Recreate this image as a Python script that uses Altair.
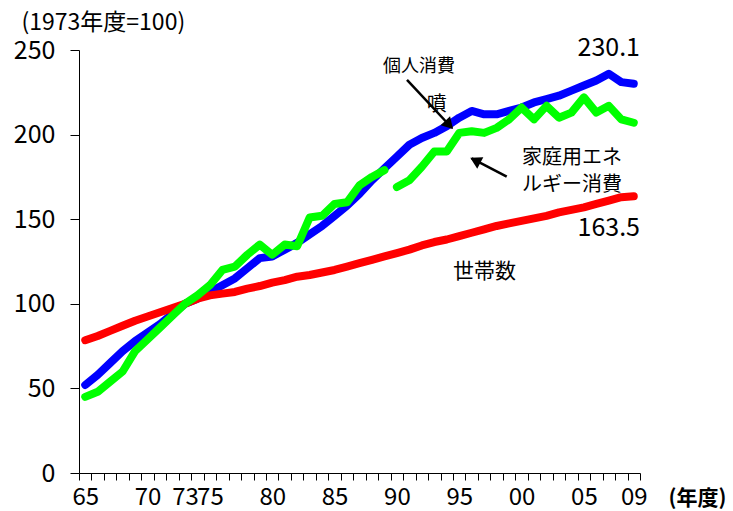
import altair as alt
import pandas as pd

# ---------------- data (index, FY1973 = 100) ----------------
years = [1965, 1966, 1967, 1968, 1969, 1970, 1971, 1972, 1973, 1974,
         1975, 1976, 1977, 1978, 1979, 1980, 1981, 1982, 1983, 1984,
         1985, 1986, 1987, 1988, 1989, 1990, 1991, 1992, 1993, 1994,
         1995, 1996, 1997, 1998, 1999, 2000, 2001, 2002, 2003, 2004,
         2005, 2006, 2007, 2008, 2009]

consumption = [52, 58, 65, 72, 78, 83, 88, 94, 100, 103,
               107, 111, 115, 121, 127, 128, 132, 136, 141, 146,
               152, 158, 165, 173, 180, 187, 194, 198, 201, 205,
               210, 214, 212, 212, 214, 216, 219, 221, 223, 226,
               229, 232, 236, 231, 230.1]

households = [78.5, 81, 84, 87, 90, 92.5, 95, 97.5, 100, 103,
              105, 106, 107, 109, 110.5, 112.5, 114, 116, 117, 118.5,
              120, 122, 124, 126, 128, 130, 132, 134.5, 136.5, 138,
              140, 142, 144, 146, 147.5, 149, 150.5, 152, 154, 155.5,
              157, 159, 161, 163, 163.5]

energy = [45, 48, 54, 60, 72, 79, 86, 93, 100, 105,
          111, 120, 122, 129, 135, 129, 135, 134, 151, 152,
          159, 160, 170, 175, 179, 169, 173, 181, 190, 190,
          201, 202, 201, 204, 209, 216, 209, 217, 210, 213,
          222, 213, 217, 209, 207]
energy_break_after = 1989  # series is discontinuous between FY1989 and FY1990

x_label_years = [1965, 1970, 1973, 1975, 1980, 1985, 1990, 1995, 2000, 2005, 2009]
y_ticks = [0, 50, 100, 150, 200, 250]

# annotations: text, year position, value position
num_labels = ["230.1", "163.5"]
num_label_x = [2009.5, 2009.5]
num_label_y = [251.0, 144.6]

series_labels = ["個人消費", "噴", "家庭用エネ", "ルギー消費", "世帯数"]
series_label_x = [1988.88, 1992.4, 2000.03, 2000.03, 1994.5]
series_label_y = [239.7, 217.6, 186.0, 170.0, 118.5]
series_label_size = [18, 20, 20, 20, 21]

arrow_x = [1990.81, 1998.81]
arrow_y = [232.3, 175.1]
arrow_x2 = [1994.42, 1996.0]
arrow_y2 = [203.9, 186.0]
arrow_head_x = [1994.09, 1996.42]
arrow_head_y = [206.6, 184.3]
arrow_head_angle = [136.9, 297.8]

# ---------------- build tables ----------------
rows = []
for i, yr in enumerate(years):
    rows.append(dict(year=yr, value=consumption[i], series="consumption", seg="c"))
    rows.append(dict(year=yr, value=households[i], series="households", seg="h"))
    rows.append(dict(year=yr, value=energy[i], series="energy",
                     seg="e1" if yr <= energy_break_after else "e2"))
df = pd.DataFrame(rows)

num_df = pd.DataFrame(dict(t=num_labels, x=num_label_x, y=num_label_y))
lab_df = pd.DataFrame(dict(t=series_labels, x=series_label_x, y=series_label_y,
                           s=series_label_size))
arr_df = pd.DataFrame(dict(x=arrow_x, y=arrow_y, x2=arrow_x2, y2=arrow_y2,
                           hx=arrow_head_x, hy=arrow_head_y, a=arrow_head_angle))

FONT = "Noto Sans CJK JP"
W, H = 561, 423

boundaries = [y - 0.5 for y in years] + [years[-1] + 0.5]
label_expr = "substring(toString(datum.value), 2, 4)"

x_scale = alt.Scale(domain=[boundaries[0], boundaries[-1]], nice=False, zero=False)
y_scale = alt.Scale(domain=[0, 250], nice=False)

# axis with ticks at category boundaries (no labels)
x_tick_axis = alt.Axis(values=boundaries, labels=False, grid=False, orient="bottom",
                       tickSize=7, tickColor="black", domainColor="black",
                       title="(年度)", titleFont=FONT, titleFontSize=21,
                       titleFontWeight="bold", titleColor="black",
                       titleX=589, titleY=25, titleAlign="left",
                       titleBaseline="middle", titleAngle=0)
# axis with labels at category centres (no ticks)
x_label_axis = alt.Axis(values=x_label_years, labelExpr=label_expr, grid=False,
                        orient="bottom", ticks=False, tickSize=0, domain=False,
                        labelFont=FONT, labelFontSize=24, labelColor="black",
                        labelBaseline="middle", labelPadding=24,
                        labelOverlap=False, labelFlush=False, labelBound=False,
                        title=None)

y_axis = alt.Axis(values=y_ticks, grid=False, tickSize=9, tickColor="black",
                  domainColor="black", labelFont=FONT, labelFontSize=25,
                  labelColor="black", labelPadding=15, labelBaseline="middle",
                  title="(1973年度=100)", titleFont=FONT, titleFontSize=23,
                  titleFontWeight="normal", titleColor="black", titleAngle=0,
                  titleX=-58, titleY=-28, titleAlign="left", titleBaseline="middle")


def series_line(name, color, x_axis):
    return alt.Chart(df).transform_filter(alt.datum.series == name).mark_line(
        color=color, strokeWidth=8, strokeCap="round", strokeJoin="round"
    ).encode(
        x=alt.X("year:Q", scale=x_scale, axis=x_axis),
        y=alt.Y("value:Q", scale=y_scale, axis=y_axis),
        detail="seg:N",
    )


blue = series_line("consumption", "#0000FF", x_tick_axis)
red = series_line("households", "#FF0000", x_label_axis)
green = series_line("energy", "#00FF00", None)

nums = alt.Chart(num_df).mark_text(
    align="right", baseline="middle", font=FONT, fontSize=25, color="black"
).encode(x=alt.X("x:Q", scale=x_scale, axis=None),
         y=alt.Y("y:Q", scale=y_scale, axis=y_axis), text="t:N")

labs = alt.Chart(lab_df).mark_text(
    align="left", baseline="middle", font=FONT, color="black"
).encode(x=alt.X("x:Q", scale=x_scale, axis=None),
         y=alt.Y("y:Q", scale=y_scale, axis=y_axis),
         text="t:N", size=alt.Size("s:Q", scale=None, legend=None))

arrows = alt.Chart(arr_df).mark_rule(color="black", strokeWidth=2.5).encode(
    x=alt.X("x:Q", scale=x_scale, axis=None),
    y=alt.Y("y:Q", scale=y_scale, axis=y_axis),
    x2="x2:Q", y2="y2:Q")

heads = alt.Chart(arr_df).mark_point(
    shape="triangle", filled=True, color="black", opacity=1, size=170
).encode(x=alt.X("hx:Q", scale=x_scale, axis=None),
         y=alt.Y("hy:Q", scale=y_scale, axis=y_axis),
         angle=alt.Angle("a:Q", scale=None))

chart = alt.layer(blue, red, green, arrows, heads, nums, labs).resolve_axis(
    x="independent"
).properties(
    width=W, height=H,
    autosize=alt.AutoSizeParams(type="none"),
    padding={"left": 79, "top": 50, "right": 93, "bottom": 38},
    background="white",
).configure_view(stroke=None)

chart.save("out.html", embed_options={"renderer": "svg", "actions": False})
